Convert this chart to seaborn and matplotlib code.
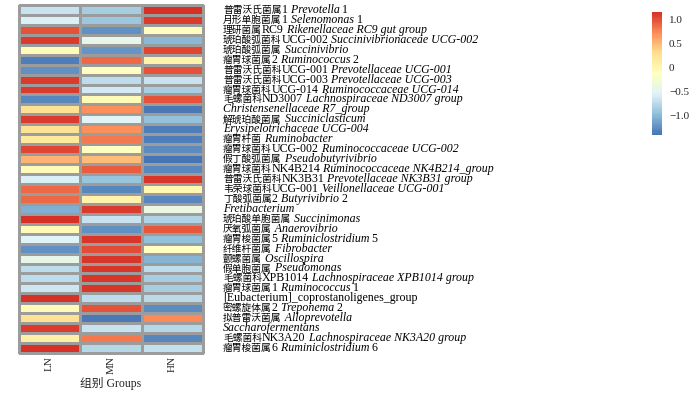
import numpy as np
import pandas as pd
import matplotlib
matplotlib.use("Agg")
import matplotlib.pyplot as plt
import seaborn as sns
from matplotlib.colors import LinearSegmentedColormap
from matplotlib.offsetbox import TextArea, HPacker, AnnotationBbox

# ---------------- data ----------------
groups = ["LN", "MN", "HN"]

row_labels = [
    "普雷沃氏菌属1 *Prevotella* 1",
    "月形单胞菌属1 *Selenomonas* 1",
    "理研菌属RC9 *Rikenellaceae RC9 gut group*",
    "琥珀酸弧菌科UCG-002 *Succinivibrionaceae UCG-002*",
    "琥珀酸弧菌属 *Succinivibrio*",
    "瘤胃球菌属2 *Ruminococcus* 2",
    "普雷沃氏菌科UCG-001 *Prevotellaceae UCG-001*",
    "普雷沃氏菌科UCG-003 *Prevotellaceae UCG-003*",
    "瘤胃球菌科UCG-014 *Ruminococcaceae UCG-014*",
    "毛螺菌科ND3007 *Lachnospiraceae ND3007 group*",
    "*Christensenellaceae R7_group*",
    "解琥珀酸菌属 *Succiniclasticum*",
    "*Erysipelotrichaceae UCG-004*",
    "瘤胃杆菌 *Ruminobacter*",
    "瘤胃球菌科UCG-002 *Ruminococcaceae UCG-002*",
    "假丁酸弧菌属 *Pseudobutyrivibrio*",
    "瘤胃球菌科NK4B214 *Ruminococcaceae NK4B214_group*",
    "普雷沃氏菌科NK3B31 *Prevotellaceae NK3B31 group*",
    "韦荣球菌科UCG-001 *Veillonellaceae UCG-001*",
    "丁酸弧菌属2 *Butyrivibrio* 2",
    "*Fretibacterium*",
    "琥珀酸单胞菌属 *Succinimonas*",
    "厌氧弧菌属 *Anaerovibrio*",
    "瘤胃梭菌属5 *Ruminiclostridium* 5",
    "纤维杆菌属 *Fibrobacter*",
    "颤螺菌属 *Oscillospira*",
    "假单胞菌属 *Pseudomonas*",
    "毛螺菌科XPB1014 *Lachnospiraceae XPB1014 group*",
    "瘤胃球菌属1 *Ruminococcus* 1",
    "[Eubacterium]_coprostanoligenes_group",
    "密螺旋体属2 *Treponema* 2",
    "拟普雷沃菌属 *Alloprevotella*",
    "*Saccharofermentans*",
    "毛螺菌科NK3A20 *Lachnospiraceae NK3A20 group*",
    "瘤胃梭菌属6 *Ruminiclostridium* 6",
]

LN = [-0.67, -0.56, 0.99, 1.10, -0.08, -1.34, -1.23, 1.10, 1.10, -1.28,
      0.27, 1.10, 0.27, 0.21, 1.04, 0.54, -0.06, -0.56, 0.88, 0.88,
      -1.06, 1.15, -0.06, -0.54, -1.23, -0.45, -0.73, -0.73, -0.65, 1.15,
      -0.06, 0.27, 1.10, 0.10, 1.15]
MN = [-0.84, -0.90, -1.23, -0.45, -1.20, 0.88, -0.10, -0.73, -0.62, -0.06,
      0.71, -0.51, 0.71, 0.82, -0.14, 0.49, 0.93, -0.92, -1.28, 0.05,
      1.10, -0.67, -1.23, 1.12, 1.01, 1.12, 1.12, 1.12, 1.12, -0.73,
      0.99, -1.36, -0.67, 0.82, -0.78]
HN = [1.15, 1.10, -0.12, -1.01, 1.05, 0.05, 1.00, -0.67, -0.84, 0.99,
      -1.36, -0.95, -1.34, -1.34, -1.26, -1.40, -1.28, 1.12, -0.01, -1.28,
      -0.40, -0.81, 0.97, -0.94, -0.14, -1.03, -0.73, -0.84, -0.84, -0.76,
      -1.26, 0.73, -0.78, -1.28, -0.70]

cbar_ticks = [-1.0, -0.5, 0.0, 0.5, 1.0]
cbar_ticklabels = ["\u22121.0", "\u22120.5", "0", "0.5", "1.0"]
x_title = "组别 Groups"

# ---------------- style ----------------
sns.set_theme(style="white")
plt.rcParams["font.family"] = ["Liberation Serif", "Noto Sans CJK SC"]
FAM = ["Liberation Serif", "Noto Sans CJK SC"]
LAT_FS = 8.6
CJK_FS = 7.0

cmap = LinearSegmentedColormap.from_list(
    "pheat", ["#4575B4", "#91BFDB", "#E0F3F8", "#FFFFBF", "#FEE090", "#FC8D59", "#D73027"], N=100)

fig = plt.figure(figsize=(7.0, 3.93), dpi=100)
W, H = 700.0, 393.0
ax = fig.add_axes([19 / W, 1 - 353 / H, 184 / W, 348 / H])
cax = fig.add_axes([652 / W, 1 - 135 / H, 10 / W, 123 / H])

df = pd.DataFrame({"LN": LN, "MN": MN, "HN": HN}, columns=groups)

sns.heatmap(df, ax=ax, cmap=cmap, vmin=-1.40, vmax=1.16,
            linewidths=0.8, linecolor="#9c9c9c",
            cbar_ax=cax, xticklabels=groups, yticklabels=False)
ax.collections[0].set_clip_on(False)
for s in ax.spines.values():
    s.set_visible(False)

ax.set_xlabel("")
ax.set_ylabel("")
ax.tick_params(axis="x", length=0, pad=2)
for t in ax.get_xticklabels():
    t.set_rotation(90)
    t.set_fontsize(8)
    t.set_family(FAM)
    t.set_va("top")

ax.text(0.5, -(384 - 353) / 348.0, x_title, transform=ax.transAxes,
        ha="center", va="center", fontsize=8.5, family=FAM)


def is_cjk(ch):
    return ord(ch) >= 0x2E80


def segments(label):
    """Split a label into (text, italic, cjk) runs; spaces move to the next run."""
    runs = []
    for j, part in enumerate(label.split("*")):
        italic = (j % 2 == 1)
        cur, cur_cjk = "", None
        for ch in part:
            c = is_cjk(ch)
            if cur and c != cur_cjk and ch != " ":
                runs.append([cur, italic, cur_cjk])
                cur = ""
            if ch != " " or cur:
                if not cur:
                    cur_cjk = c
            cur += ch
            if cur.strip() == "":
                cur_cjk = None
        if cur:
            runs.append([cur, italic, cur_cjk if cur_cjk is not None else False])
    # move trailing spaces to the beginning of next run
    for k in range(len(runs) - 1):
        txt = runs[k][0]
        st = txt.rstrip(" ")
        if st != txt:
            runs[k][0] = st
            runs[k + 1][0] = txt[len(st):] + runs[k + 1][0]
    return [r for r in runs if r[0].strip()]


for i, lab in enumerate(row_labels):
    areas = []
    for txt, it, cj in segments(lab):
        if cj:
            props = dict(fontsize=CJK_FS, family="Noto Sans CJK SC", color="black")
        else:
            props = dict(fontsize=LAT_FS, family="Liberation Serif",
                         style="italic" if it else "normal", color="black")
        areas.append(TextArea(txt, textprops=props))
    pack = HPacker(children=areas, align="baseline", pad=0, sep=0)
    ab = AnnotationBbox(pack, xy=(1.0, i + 0.5), xycoords=("axes fraction", "data"),
                        xybox=(14.4, 0), boxcoords="offset points",
                        box_alignment=(0, 0.5), frameon=False, pad=0,
                        annotation_clip=False)
    ax.add_artist(ab)

# colorbar
cb = ax.collections[0].colorbar
cb.outline.set_visible(False)
cb.set_ticks(cbar_ticks)
cb.set_ticklabels(cbar_ticklabels)
cax.tick_params(length=0, pad=5, labelsize=8)
for t in cax.get_yticklabels():
    t.set_family(FAM)

fig.savefig("out.png", dpi=100)
